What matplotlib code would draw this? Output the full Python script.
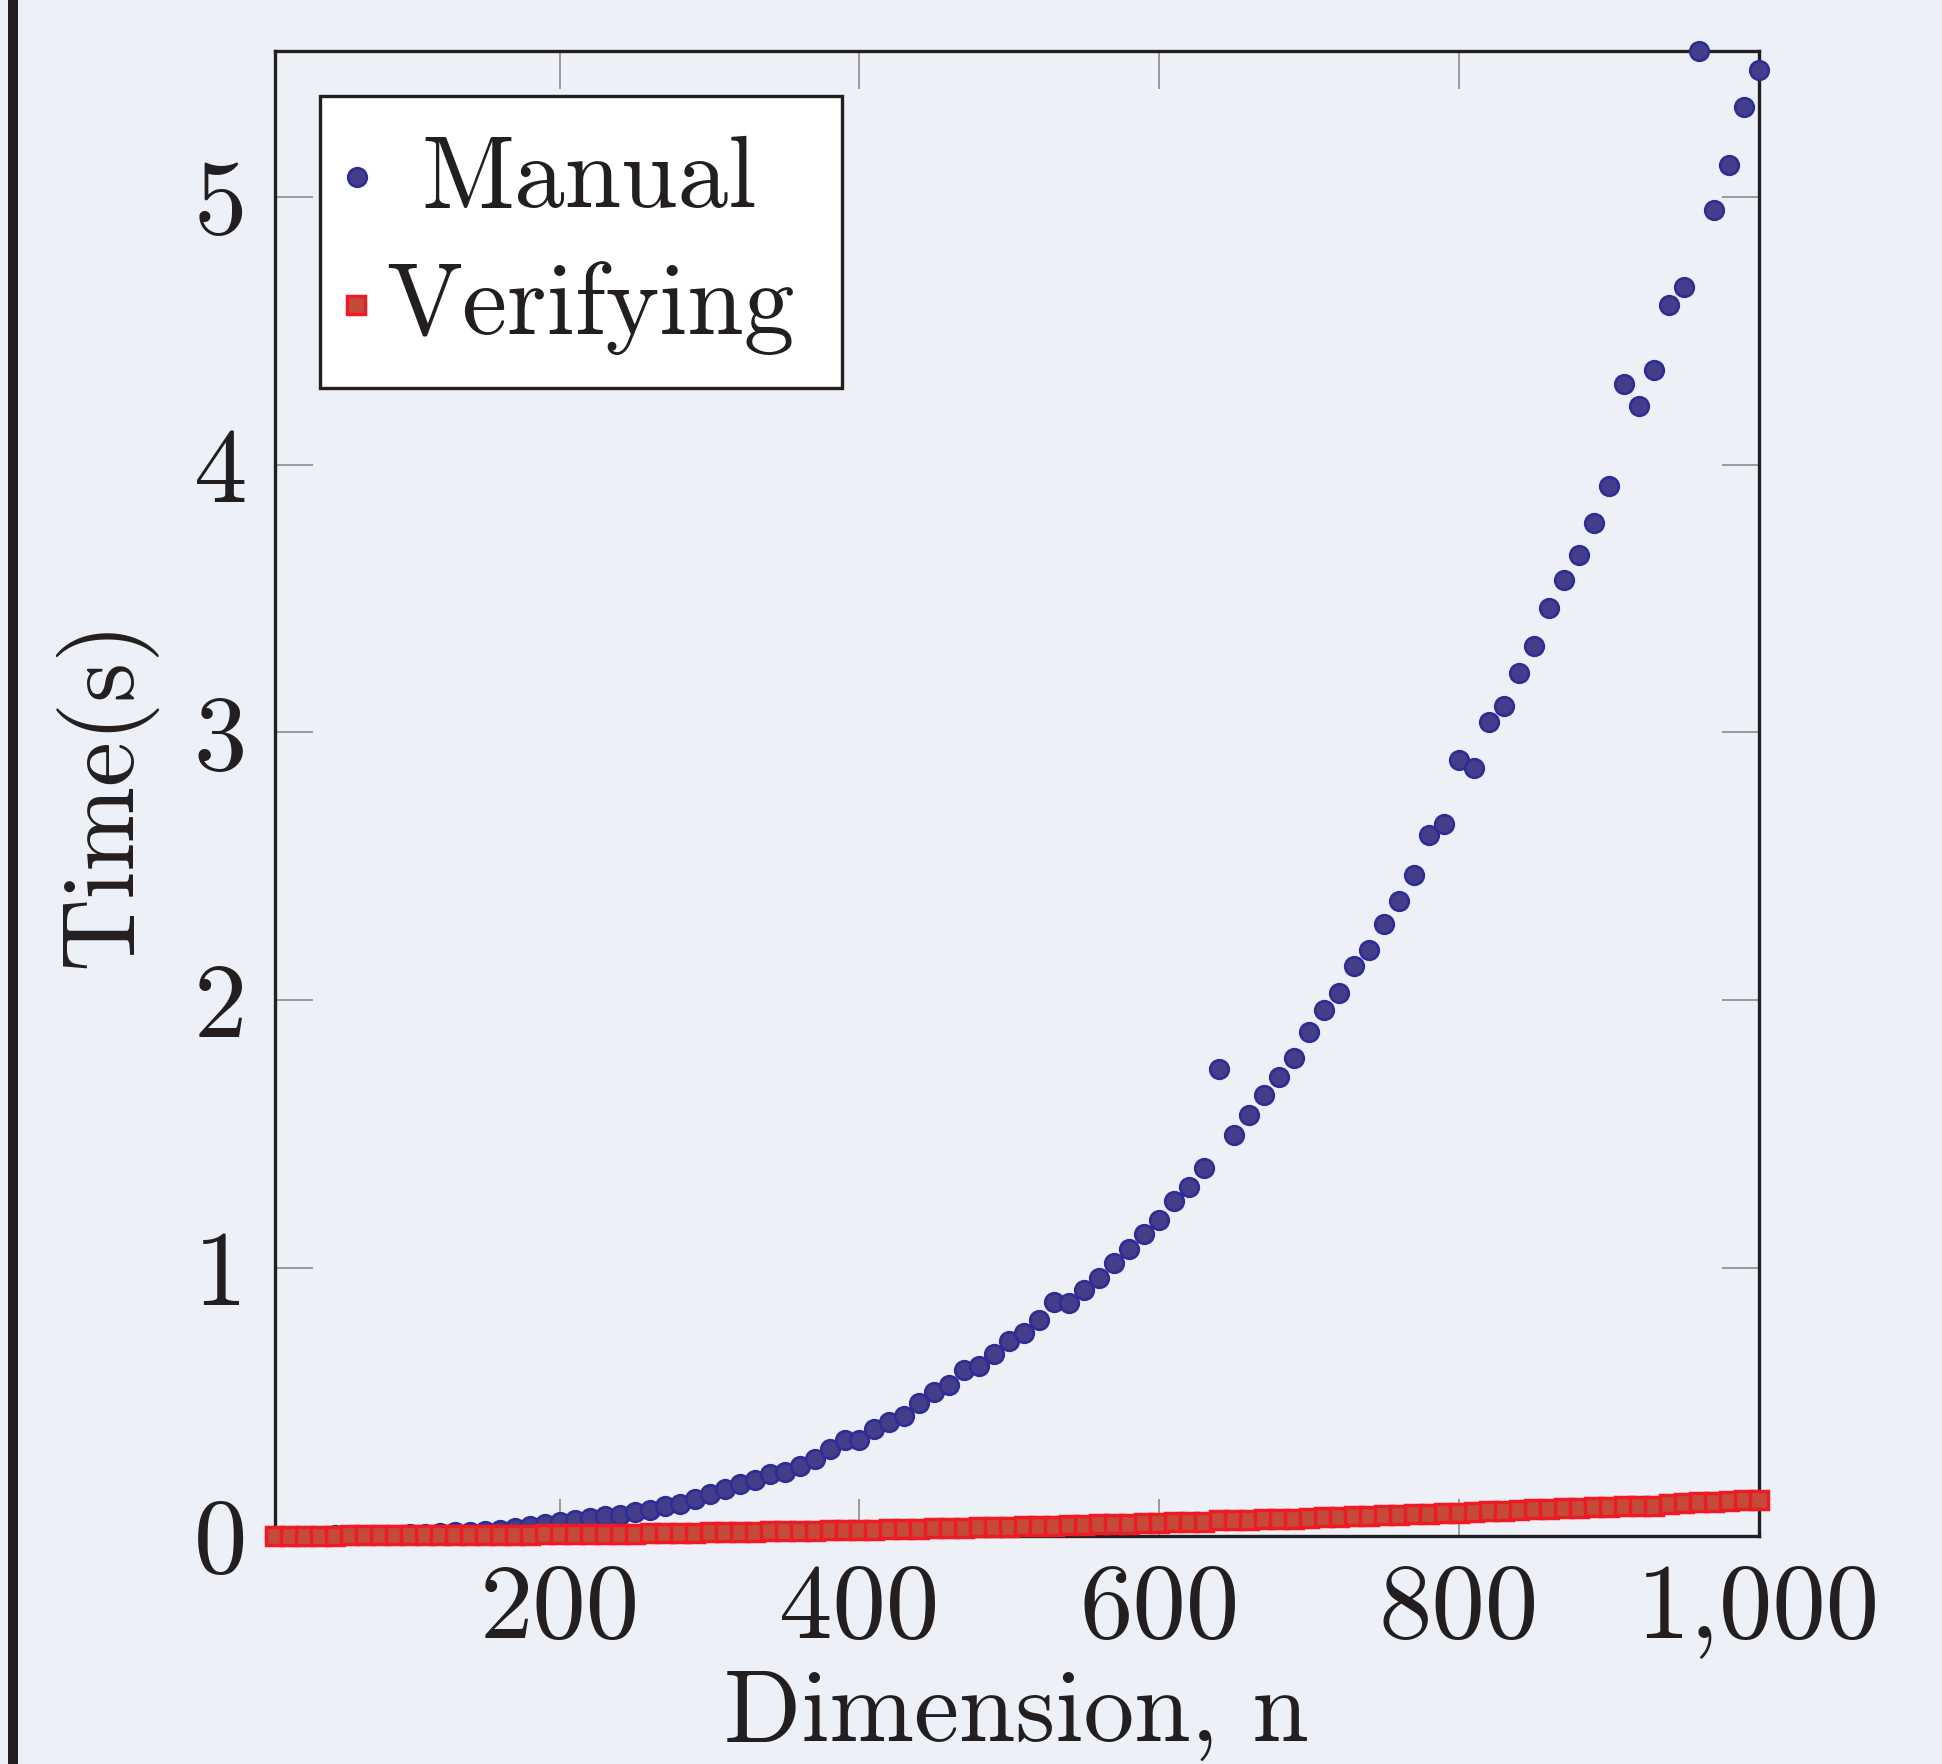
import matplotlib
matplotlib.use("Agg")
import matplotlib.pyplot as plt
from matplotlib.patches import Rectangle
from matplotlib.lines import Line2D

# ---------------- data ----------------
dimension = list(range(10, 1010, 10))

manual = [
    0.0000, 0.0001, 0.0002, 0.0004, 0.0008, 0.0013, 0.0020, 0.0030, 0.0042, 0.0057,
    0.0076, 0.0098, 0.0124, 0.0155, 0.0190, 0.0230, 0.0290, 0.0350, 0.0420, 0.0500,
    0.0580, 0.0650, 0.0720, 0.0790, 0.0880, 0.0970, 0.1100, 0.1200, 0.1380, 0.1560,
    0.1740, 0.1930, 0.2090, 0.2320, 0.2390, 0.2610, 0.2850, 0.3250, 0.3580, 0.3590,
    0.4000, 0.4230, 0.4460, 0.4940, 0.5360, 0.5620, 0.6180, 0.6330, 0.6780, 0.7260,
    0.7580, 0.8050, 0.8720, 0.8680, 0.9180, 0.9620, 1.0180, 1.0720, 1.1270, 1.1790,
    1.2490, 1.3030, 1.3720, 1.7420, 1.4970, 1.5720, 1.6460, 1.7140, 1.7850, 1.8800,
    1.9630, 2.0250, 2.1260, 2.1860, 2.2830, 2.3690, 2.4690, 2.6160, 2.6590, 2.8980,
    2.8650, 3.0400, 3.1000, 3.2210, 3.3230, 3.4630, 3.5680, 3.6620, 3.7820, 3.9190,
    4.3020, 4.2190, 4.3530, 4.5940, 4.6640, 5.5450, 4.9500, 5.1190, 5.3360, 5.4740,
]

verifying = [
    0.000, 0.000, 0.000, 0.000, 0.000, 0.001, 0.001, 0.001, 0.001, 0.001,
    0.002, 0.002, 0.002, 0.003, 0.003, 0.003, 0.004, 0.004, 0.005, 0.005,
    0.006, 0.007, 0.007, 0.008, 0.008, 0.009, 0.010, 0.011, 0.011, 0.012,
    0.013, 0.014, 0.015, 0.016, 0.017, 0.018, 0.018, 0.020, 0.021, 0.022,
    0.023, 0.024, 0.025, 0.026, 0.027, 0.029, 0.030, 0.031, 0.032, 0.034,
    0.035, 0.036, 0.038, 0.039, 0.041, 0.042, 0.044, 0.045, 0.047, 0.048,
    0.050, 0.052, 0.053, 0.057, 0.057, 0.059, 0.061, 0.062, 0.064, 0.066,
    0.068, 0.070, 0.072, 0.074, 0.076, 0.078, 0.080, 0.082, 0.084, 0.086,
    0.089, 0.091, 0.093, 0.095, 0.098, 0.100, 0.102, 0.105, 0.107, 0.109,
    0.112, 0.111, 0.110, 0.119, 0.122, 0.124, 0.127, 0.129, 0.132, 0.135,
]

series_names = ["Manual", "Verifying"]
x_ticks = [200, 400, 600, 800, 1000]
x_tick_labels = ["200", "400", "600", "800", "1,000"]
y_ticks = [0, 1, 2, 3, 4, 5]
y_tick_labels = ["0", "1", "2", "3", "4", "5"]
x_label = "Dimension, n"
y_label = "Time(s)"

# ---------------- style ----------------
BG = "#EDF0F7"
INK = "#231F20"
FS = 73
TICK_FS = 77
plt.rcParams["font.family"] = ["cmr10", "DejaVu Serif"]
plt.rcParams["mathtext.fontset"] = "cm"
plt.rcParams["axes.unicode_minus"] = False

manual_style = dict(ls="none", marker="o", ms=13.4, mfc="#443E8A", mec="#2C2E96", mew=1.9)
verify_style = dict(ls="none", marker="s", ms=13.3, mfc="#C44B3A", mec="#ED1C24", mew=2.5)

fig = plt.figure(figsize=(19.42, 17.64), dpi=100, facecolor=BG)
ax = fig.add_axes([0.14161, 0.12942, 0.76400, 0.84178])
ax.set_facecolor(BG)

ax.plot(dimension, manual, clip_on=False, zorder=4, **manual_style)
ax.plot(dimension, verifying, clip_on=False, zorder=5, **verify_style)

ax.set_xlim(dimension[0], dimension[-1])
ax.set_ylim(min(min(manual), min(verifying)), max(max(manual), max(verifying)))

ax.set_xticks(x_ticks)
ax.set_xticklabels(x_tick_labels)
ax.set_yticks(y_ticks)
ax.set_yticklabels(y_tick_labels)

ax.tick_params(axis="both", which="major", direction="in", length=27, width=1.4,
               color="#9A9A9A", top=True, right=True, labelsize=TICK_FS, labelcolor=INK)
ax.tick_params(axis="x", pad=20)
ax.tick_params(axis="y", pad=20)

for s in ax.spines.values():
    s.set_linewidth(2.4)
    s.set_color(INK)
    s.set_zorder(3)

ax.set_xlabel(x_label, fontsize=FS, color=INK)
ax.xaxis.label.set_va("baseline")
ax.xaxis.set_label_coords(0.5, -0.1376)
ax.set_ylabel(y_label, fontsize=FS, color=INK)
ax.yaxis.label.set_va("center")
ax.yaxis.set_label_coords(-0.1146, 0.5)

# legend (pgfplots style: keys at left, labels centred)
ax.add_patch(Rectangle((0.0301, 0.7731), 0.3521, 0.1965, transform=ax.transAxes,
                       facecolor="white", edgecolor=INK, linewidth=2.4,
                       zorder=6, clip_on=False))
ax.plot([0.0553], [0.9150], transform=ax.transAxes, clip_on=False, zorder=7, **manual_style)
ax.plot([0.0546], [0.8291], transform=ax.transAxes, clip_on=False, zorder=7, **verify_style)
ax.text(0.2116, 0.8948, series_names[0], transform=ax.transAxes, ha="center",
        va="baseline", fontsize=FS, color=INK, zorder=7)
ax.text(0.2122, 0.8093, series_names[1], transform=ax.transAxes, ha="center",
        va="baseline", fontsize=FS, color=INK, zorder=7)

# thick vertical rule at left edge
fig.add_artist(Line2D([0.0067, 0.0067], [0, 1], transform=fig.transFigure,
                      lw=7.2, color=INK))

fig.savefig("out.png", dpi=100, facecolor=BG)
